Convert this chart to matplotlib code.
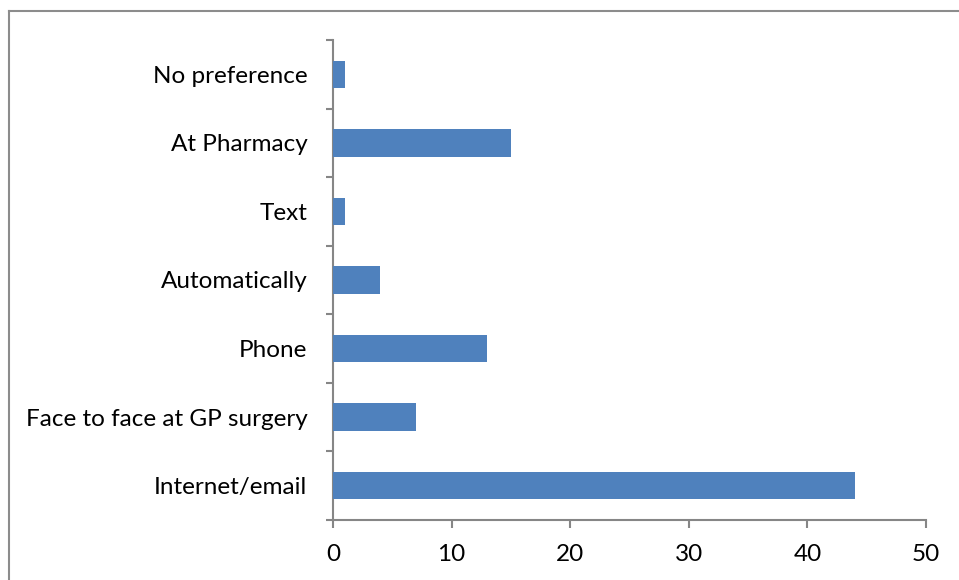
import numpy as np
import matplotlib.pyplot as plt
from matplotlib.lines import Line2D

categories = ["Internet/email", "Face to face at GP surgery", "Phone",
              "Automatically", "Text", "At Pharmacy", "No preference"]
counts = [44, 7, 13, 4, 1, 15, 1]
xticks = [0, 10, 20, 30, 40, 50]

plt.rcParams["font.family"] = ["Lato", "DejaVu Sans"]

fig = plt.figure(figsize=(9.59, 5.80), dpi=100)
W, H = 959, 580
ax = fig.add_axes([333 / W, 1 - 520 / H, (926 - 333) / W, (520 - 40) / H])

y = np.arange(len(categories))
ax.barh(y, counts, height=0.4, color="#4F81BD", zorder=3)

ax.set_xlim(0, 50)
ax.set_ylim(-0.5, len(categories) - 0.5)
ax.set_xticks(xticks)
ax.set_xticklabels([str(t) for t in xticks])
ax.set_yticks(y)
ax.set_yticklabels(categories)
ax.set_yticks(np.arange(len(categories) + 1) - 0.5, minor=True)

axis_col = "#868686"
for side in ["top", "right"]:
    ax.spines[side].set_visible(False)
for side in ["left", "bottom"]:
    ax.spines[side].set_color(axis_col)
    ax.spines[side].set_linewidth(1.5)

ax.tick_params(axis="y", which="major", length=0, pad=18.5, labelsize=17.5)
ax.tick_params(axis="y", which="minor", length=5, width=1.5, color=axis_col)
ax.tick_params(axis="x", which="major", length=6, width=1.5, color=axis_col,
               pad=11.5, labelsize=17.5)

# chart area frame (left and top edges only)
frame = dict(transform=fig.transFigure, color="#8c8c8c", linewidth=1.5)
fig.lines.append(Line2D([9 / W, 9 / W], [0, 1 - 11 / H], **frame))
fig.lines.append(Line2D([9 / W, 1], [1 - 11 / H, 1 - 11 / H], **frame))

fig.savefig("out.png", dpi=100)
